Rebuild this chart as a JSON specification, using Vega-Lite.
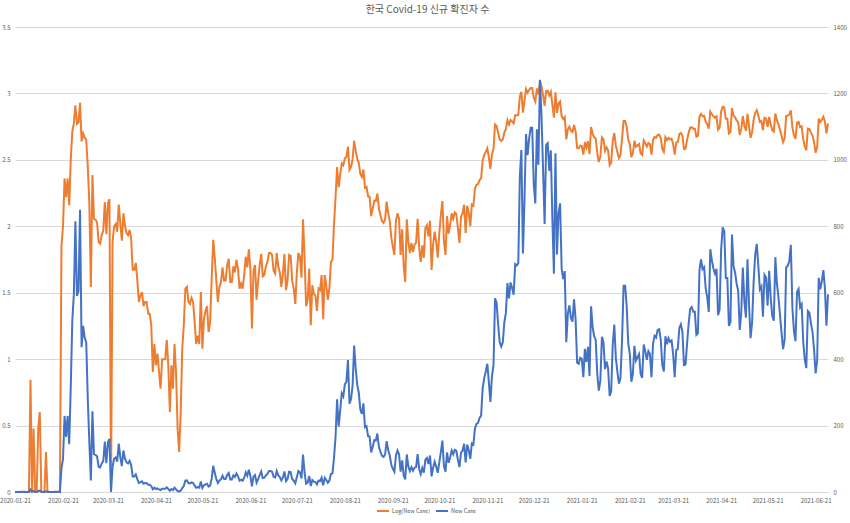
{
"$schema":"https://vega.github.io/schema/vega-lite/v6.json",
"width":813,"height":465,"autosize":"none",
"padding":{"left":15,"top":27,"right":22,"bottom":31},
"background":"white",
"title":{"text":"한국 Covid-19 신규 확진자 수","fontSize":10,"font":"Noto Sans CJK KR","fontWeight":"normal","color":"#595959","anchor":"middle","offset":9,"dx":6},
"data":{"values":[
{"date":"2020-01-21","n":0,"l":0},{"date":"2020-01-22","n":0,"l":0},{"date":"2020-01-23","n":0,"l":0},{"date":"2020-01-24","n":1,"l":0},{"date":"2020-01-25","n":0,"l":0},{"date":"2020-01-26","n":1,"l":0},{"date":"2020-01-27","n":1,"l":0},{"date":"2020-01-28","n":0,"l":0},{"date":"2020-01-29","n":0,"l":0},{"date":"2020-01-30","n":0,"l":0},{"date":"2020-01-31","n":7,"l":0.845},
{"date":"2020-02-01","n":0,"l":0},{"date":"2020-02-02","n":3,"l":0.477},{"date":"2020-02-03","n":0,"l":0},{"date":"2020-02-04","n":1,"l":0},{"date":"2020-02-05","n":3,"l":0.477},{"date":"2020-02-06","n":4,"l":0.602},{"date":"2020-02-07","n":1,"l":0},{"date":"2020-02-08","n":0,"l":0},{"date":"2020-02-09","n":0,"l":0},{"date":"2020-02-10","n":2,"l":0.301},{"date":"2020-02-11","n":1,"l":0},{"date":"2020-02-12","n":0,"l":0},{"date":"2020-02-13","n":0,"l":0},{"date":"2020-02-14","n":0,"l":0},{"date":"2020-02-15","n":0,"l":0},{"date":"2020-02-16","n":1,"l":0},{"date":"2020-02-17","n":1,"l":0},{"date":"2020-02-18","n":1,"l":0},{"date":"2020-02-19","n":0,"l":0},{"date":"2020-02-20","n":71,"l":1.851},{"date":"2020-02-21","n":100,"l":2.0},{"date":"2020-02-22","n":229,"l":2.36},{"date":"2020-02-23","n":166,"l":2.22},{"date":"2020-02-24","n":229,"l":2.36},{"date":"2020-02-25","n":144,"l":2.158},{"date":"2020-02-26","n":316,"l":2.5},{"date":"2020-02-27","n":515,"l":2.712},{"date":"2020-02-28","n":595,"l":2.775},{"date":"2020-02-29","n":815,"l":2.911},
{"date":"2020-03-01","n":590,"l":2.771},{"date":"2020-03-02","n":605,"l":2.782},{"date":"2020-03-03","n":850,"l":2.929},{"date":"2020-03-04","n":436,"l":2.639},{"date":"2020-03-05","n":500,"l":2.699},{"date":"2020-03-06","n":465,"l":2.667},{"date":"2020-03-07","n":450,"l":2.653},{"date":"2020-03-08","n":280,"l":2.447},{"date":"2020-03-09","n":150,"l":2.176},{"date":"2020-03-10","n":35,"l":1.544},{"date":"2020-03-11","n":243,"l":2.386},{"date":"2020-03-12","n":114,"l":2.057},{"date":"2020-03-13","n":112,"l":2.049},{"date":"2020-03-14","n":107,"l":2.029},{"date":"2020-03-15","n":76,"l":1.881},{"date":"2020-03-16","n":74,"l":1.869},{"date":"2020-03-17","n":86,"l":1.934},{"date":"2020-03-18","n":93,"l":1.968},{"date":"2020-03-19","n":152,"l":2.182},{"date":"2020-03-20","n":87,"l":1.94},{"date":"2020-03-21","n":150,"l":2.176},{"date":"2020-03-22","n":160,"l":2.204},{"date":"2020-03-23","n":0,"l":0},{"date":"2020-03-24","n":76,"l":1.881},{"date":"2020-03-25","n":100,"l":2.0},{"date":"2020-03-26","n":104,"l":2.017},{"date":"2020-03-27","n":91,"l":1.959},{"date":"2020-03-28","n":146,"l":2.164},{"date":"2020-03-29","n":105,"l":2.021},{"date":"2020-03-30","n":78,"l":1.892},{"date":"2020-03-31","n":125,"l":2.097},
{"date":"2020-04-01","n":101,"l":2.004},{"date":"2020-04-02","n":89,"l":1.949},{"date":"2020-04-03","n":86,"l":1.934},{"date":"2020-04-04","n":94,"l":1.973},{"date":"2020-04-05","n":81,"l":1.908},{"date":"2020-04-06","n":47,"l":1.672},{"date":"2020-04-07","n":47,"l":1.672},{"date":"2020-04-08","n":53,"l":1.724},{"date":"2020-04-09","n":39,"l":1.591},{"date":"2020-04-10","n":27,"l":1.431},{"date":"2020-04-11","n":30,"l":1.477},{"date":"2020-04-12","n":32,"l":1.505},{"date":"2020-04-13","n":25,"l":1.398},{"date":"2020-04-14","n":27,"l":1.431},{"date":"2020-04-15","n":27,"l":1.431},{"date":"2020-04-16","n":22,"l":1.342},{"date":"2020-04-17","n":22,"l":1.342},{"date":"2020-04-18","n":18,"l":1.255},{"date":"2020-04-19","n":8,"l":0.903},{"date":"2020-04-20","n":13,"l":1.114},{"date":"2020-04-21","n":9,"l":0.954},{"date":"2020-04-22","n":11,"l":1.041},{"date":"2020-04-23","n":8,"l":0.903},{"date":"2020-04-24","n":6,"l":0.778},{"date":"2020-04-25","n":10,"l":1},{"date":"2020-04-26","n":10,"l":1},{"date":"2020-04-27","n":10,"l":1},{"date":"2020-04-28","n":14,"l":1.146},{"date":"2020-04-29","n":9,"l":0.954},{"date":"2020-04-30","n":4,"l":0.602},
{"date":"2020-05-01","n":9,"l":0.954},{"date":"2020-05-02","n":6,"l":0.778},{"date":"2020-05-03","n":13,"l":1.114},{"date":"2020-05-04","n":8,"l":0.903},{"date":"2020-05-05","n":3,"l":0.477},{"date":"2020-05-06","n":2,"l":0.301},{"date":"2020-05-07","n":4,"l":0.602},{"date":"2020-05-08","n":12,"l":1.079},{"date":"2020-05-09","n":18,"l":1.255},{"date":"2020-05-10","n":34,"l":1.531},{"date":"2020-05-11","n":35,"l":1.544},{"date":"2020-05-12","n":27,"l":1.431},{"date":"2020-05-13","n":26,"l":1.415},{"date":"2020-05-14","n":29,"l":1.462},{"date":"2020-05-15","n":27,"l":1.431},{"date":"2020-05-16","n":19,"l":1.279},{"date":"2020-05-17","n":13,"l":1.114},{"date":"2020-05-18","n":15,"l":1.176},{"date":"2020-05-19","n":13,"l":1.114},{"date":"2020-05-20","n":32,"l":1.505},{"date":"2020-05-21","n":12,"l":1.079},{"date":"2020-05-22","n":20,"l":1.301},{"date":"2020-05-23","n":23,"l":1.362},{"date":"2020-05-24","n":25,"l":1.398},{"date":"2020-05-25","n":16,"l":1.204},{"date":"2020-05-26","n":19,"l":1.279},{"date":"2020-05-27","n":40,"l":1.602},{"date":"2020-05-28","n":79,"l":1.898},{"date":"2020-05-29","n":58,"l":1.763},{"date":"2020-05-30","n":39,"l":1.591},{"date":"2020-05-31","n":27,"l":1.431},
{"date":"2020-06-01","n":35,"l":1.544},{"date":"2020-06-02","n":38,"l":1.58},{"date":"2020-06-03","n":49,"l":1.69},{"date":"2020-06-04","n":39,"l":1.591},{"date":"2020-06-05","n":39,"l":1.591},{"date":"2020-06-06","n":51,"l":1.708},{"date":"2020-06-07","n":57,"l":1.756},{"date":"2020-06-08","n":38,"l":1.58},{"date":"2020-06-09","n":38,"l":1.58},{"date":"2020-06-10","n":50,"l":1.699},{"date":"2020-06-11","n":45,"l":1.653},{"date":"2020-06-12","n":56,"l":1.748},{"date":"2020-06-13","n":48,"l":1.681},{"date":"2020-06-14","n":34,"l":1.531},{"date":"2020-06-15","n":37,"l":1.568},{"date":"2020-06-16","n":34,"l":1.531},{"date":"2020-06-17","n":43,"l":1.633},{"date":"2020-06-18","n":59,"l":1.771},{"date":"2020-06-19","n":49,"l":1.69},{"date":"2020-06-20","n":67,"l":1.826},{"date":"2020-06-21","n":48,"l":1.681},{"date":"2020-06-22","n":17,"l":1.23},{"date":"2020-06-23","n":46,"l":1.663},{"date":"2020-06-24","n":51,"l":1.708},{"date":"2020-06-25","n":28,"l":1.447},{"date":"2020-06-26","n":39,"l":1.591},{"date":"2020-06-27","n":51,"l":1.708},{"date":"2020-06-28","n":62,"l":1.792},{"date":"2020-06-29","n":42,"l":1.623},{"date":"2020-06-30","n":43,"l":1.633},
{"date":"2020-07-01","n":50,"l":1.699},{"date":"2020-07-02","n":54,"l":1.732},{"date":"2020-07-03","n":63,"l":1.799},{"date":"2020-07-04","n":63,"l":1.799},{"date":"2020-07-05","n":61,"l":1.785},{"date":"2020-07-06","n":46,"l":1.663},{"date":"2020-07-07","n":44,"l":1.643},{"date":"2020-07-08","n":63,"l":1.799},{"date":"2020-07-09","n":50,"l":1.699},{"date":"2020-07-10","n":45,"l":1.653},{"date":"2020-07-11","n":35,"l":1.544},{"date":"2020-07-12","n":44,"l":1.643},{"date":"2020-07-13","n":62,"l":1.792},{"date":"2020-07-14","n":33,"l":1.519},{"date":"2020-07-15","n":39,"l":1.591},{"date":"2020-07-16","n":61,"l":1.785},{"date":"2020-07-17","n":60,"l":1.778},{"date":"2020-07-18","n":39,"l":1.591},{"date":"2020-07-19","n":34,"l":1.531},{"date":"2020-07-20","n":26,"l":1.415},{"date":"2020-07-21","n":45,"l":1.653},{"date":"2020-07-22","n":63,"l":1.799},{"date":"2020-07-23","n":59,"l":1.771},{"date":"2020-07-24","n":41,"l":1.613},{"date":"2020-07-25","n":113,"l":2.053},{"date":"2020-07-26","n":58,"l":1.763},{"date":"2020-07-27","n":25,"l":1.398},{"date":"2020-07-28","n":28,"l":1.447},{"date":"2020-07-29","n":48,"l":1.681},{"date":"2020-07-30","n":18,"l":1.255},{"date":"2020-07-31","n":36,"l":1.556},
{"date":"2020-08-01","n":31,"l":1.491},{"date":"2020-08-02","n":30,"l":1.477},{"date":"2020-08-03","n":23,"l":1.362},{"date":"2020-08-04","n":34,"l":1.531},{"date":"2020-08-05","n":33,"l":1.519},{"date":"2020-08-06","n":43,"l":1.633},{"date":"2020-08-07","n":20,"l":1.301},{"date":"2020-08-08","n":43,"l":1.633},{"date":"2020-08-09","n":36,"l":1.556},{"date":"2020-08-10","n":28,"l":1.447},{"date":"2020-08-11","n":34,"l":1.531},{"date":"2020-08-12","n":54,"l":1.732},{"date":"2020-08-13","n":56,"l":1.748},{"date":"2020-08-14","n":103,"l":2.013},{"date":"2020-08-15","n":166,"l":2.22},{"date":"2020-08-16","n":279,"l":2.446},{"date":"2020-08-17","n":197,"l":2.294},{"date":"2020-08-18","n":246,"l":2.391},{"date":"2020-08-19","n":297,"l":2.473},{"date":"2020-08-20","n":288,"l":2.459},{"date":"2020-08-21","n":324,"l":2.511},{"date":"2020-08-22","n":332,"l":2.521},{"date":"2020-08-23","n":397,"l":2.599},{"date":"2020-08-24","n":266,"l":2.425},{"date":"2020-08-25","n":280,"l":2.447},{"date":"2020-08-26","n":320,"l":2.505},{"date":"2020-08-27","n":441,"l":2.644},{"date":"2020-08-28","n":371,"l":2.569},{"date":"2020-08-29","n":323,"l":2.509},{"date":"2020-08-30","n":299,"l":2.476},{"date":"2020-08-31","n":248,"l":2.394},
{"date":"2020-09-01","n":235,"l":2.371},{"date":"2020-09-02","n":267,"l":2.427},{"date":"2020-09-03","n":195,"l":2.29},{"date":"2020-09-04","n":198,"l":2.297},{"date":"2020-09-05","n":168,"l":2.225},{"date":"2020-09-06","n":167,"l":2.223},{"date":"2020-09-07","n":119,"l":2.076},{"date":"2020-09-08","n":136,"l":2.134},{"date":"2020-09-09","n":156,"l":2.193},{"date":"2020-09-10","n":155,"l":2.19},{"date":"2020-09-11","n":176,"l":2.246},{"date":"2020-09-12","n":136,"l":2.134},{"date":"2020-09-13","n":121,"l":2.083},{"date":"2020-09-14","n":109,"l":2.037},{"date":"2020-09-15","n":106,"l":2.025},{"date":"2020-09-16","n":113,"l":2.053},{"date":"2020-09-17","n":153,"l":2.185},{"date":"2020-09-18","n":126,"l":2.1},{"date":"2020-09-19","n":110,"l":2.041},{"date":"2020-09-20","n":82,"l":1.914},{"date":"2020-09-21","n":70,"l":1.845},{"date":"2020-09-22","n":61,"l":1.785},{"date":"2020-09-23","n":110,"l":2.041},{"date":"2020-09-24","n":125,"l":2.097},{"date":"2020-09-25","n":114,"l":2.057},{"date":"2020-09-26","n":61,"l":1.785},{"date":"2020-09-27","n":95,"l":1.978},{"date":"2020-09-28","n":50,"l":1.699},{"date":"2020-09-29","n":38,"l":1.58},{"date":"2020-09-30","n":113,"l":2.053},
{"date":"2020-10-01","n":77,"l":1.886},{"date":"2020-10-02","n":63,"l":1.799},{"date":"2020-10-03","n":75,"l":1.875},{"date":"2020-10-04","n":64,"l":1.806},{"date":"2020-10-05","n":73,"l":1.863},{"date":"2020-10-06","n":75,"l":1.875},{"date":"2020-10-07","n":114,"l":2.057},{"date":"2020-10-08","n":69,"l":1.839},{"date":"2020-10-09","n":54,"l":1.732},{"date":"2020-10-10","n":72,"l":1.857},{"date":"2020-10-11","n":58,"l":1.763},{"date":"2020-10-12","n":97,"l":1.987},{"date":"2020-10-13","n":102,"l":2.009},{"date":"2020-10-14","n":84,"l":1.924},{"date":"2020-10-15","n":110,"l":2.041},{"date":"2020-10-16","n":47,"l":1.672},{"date":"2020-10-17","n":73,"l":1.863},{"date":"2020-10-18","n":91,"l":1.959},{"date":"2020-10-19","n":76,"l":1.881},{"date":"2020-10-20","n":58,"l":1.763},{"date":"2020-10-21","n":89,"l":1.949},{"date":"2020-10-22","n":121,"l":2.083},{"date":"2020-10-23","n":155,"l":2.19},{"date":"2020-10-24","n":77,"l":1.886},{"date":"2020-10-25","n":61,"l":1.785},{"date":"2020-10-26","n":119,"l":2.076},{"date":"2020-10-27","n":88,"l":1.944},{"date":"2020-10-28","n":103,"l":2.013},{"date":"2020-10-29","n":125,"l":2.097},{"date":"2020-10-30","n":114,"l":2.057},{"date":"2020-10-31","n":127,"l":2.104},
{"date":"2020-11-01","n":124,"l":2.093},{"date":"2020-11-02","n":97,"l":1.987},{"date":"2020-11-03","n":75,"l":1.875},{"date":"2020-11-04","n":118,"l":2.072},{"date":"2020-11-05","n":125,"l":2.097},{"date":"2020-11-06","n":145,"l":2.161},{"date":"2020-11-07","n":89,"l":1.949},{"date":"2020-11-08","n":143,"l":2.155},{"date":"2020-11-09","n":126,"l":2.1},{"date":"2020-11-10","n":100,"l":2.0},{"date":"2020-11-11","n":146,"l":2.164},{"date":"2020-11-12","n":143,"l":2.155},{"date":"2020-11-13","n":191,"l":2.281},{"date":"2020-11-14","n":205,"l":2.312},{"date":"2020-11-15","n":208,"l":2.318},{"date":"2020-11-16","n":223,"l":2.348},{"date":"2020-11-17","n":230,"l":2.362},{"date":"2020-11-18","n":313,"l":2.496},{"date":"2020-11-19","n":343,"l":2.535},{"date":"2020-11-20","n":363,"l":2.56},{"date":"2020-11-21","n":386,"l":2.587},{"date":"2020-11-22","n":330,"l":2.519},{"date":"2020-11-23","n":271,"l":2.433},{"date":"2020-11-24","n":349,"l":2.543},{"date":"2020-11-25","n":382,"l":2.582},{"date":"2020-11-26","n":583,"l":2.766},{"date":"2020-11-27","n":569,"l":2.755},{"date":"2020-11-28","n":504,"l":2.702},{"date":"2020-11-29","n":450,"l":2.653},{"date":"2020-11-30","n":438,"l":2.641},
{"date":"2020-12-01","n":451,"l":2.654},{"date":"2020-12-02","n":511,"l":2.708},{"date":"2020-12-03","n":540,"l":2.732},{"date":"2020-12-04","n":629,"l":2.799},{"date":"2020-12-05","n":583,"l":2.766},{"date":"2020-12-06","n":631,"l":2.8},{"date":"2020-12-07","n":615,"l":2.789},{"date":"2020-12-08","n":594,"l":2.774},{"date":"2020-12-09","n":686,"l":2.836},{"date":"2020-12-10","n":682,"l":2.834},{"date":"2020-12-11","n":689,"l":2.838},{"date":"2020-12-12","n":950,"l":2.978},{"date":"2020-12-13","n":1030,"l":3.013},{"date":"2020-12-14","n":718,"l":2.856},{"date":"2020-12-15","n":880,"l":2.944},{"date":"2020-12-16","n":1078,"l":3.033},{"date":"2020-12-17","n":1014,"l":3.006},{"date":"2020-12-18","n":1064,"l":3.027},{"date":"2020-12-19","n":1097,"l":3.04},{"date":"2020-12-20","n":1097,"l":3.04},{"date":"2020-12-21","n":926,"l":2.967},{"date":"2020-12-22","n":869,"l":2.939},{"date":"2020-12-23","n":1092,"l":3.038},{"date":"2020-12-24","n":985,"l":2.993},{"date":"2020-12-25","n":1241,"l":3.094},{"date":"2020-12-26","n":1132,"l":3.054},{"date":"2020-12-27","n":970,"l":2.987},{"date":"2020-12-28","n":807,"l":2.907},{"date":"2020-12-29","n":1045,"l":3.019},{"date":"2020-12-30","n":1050,"l":3.021},{"date":"2020-12-31","n":967,"l":2.985},
{"date":"2021-01-01","n":1029,"l":3.012},{"date":"2021-01-02","n":824,"l":2.916},{"date":"2021-01-03","n":657,"l":2.818},{"date":"2021-01-04","n":1020,"l":3.009},{"date":"2021-01-05","n":715,"l":2.854},{"date":"2021-01-06","n":840,"l":2.924},{"date":"2021-01-07","n":869,"l":2.939},{"date":"2021-01-08","n":674,"l":2.829},{"date":"2021-01-09","n":641,"l":2.807},{"date":"2021-01-10","n":665,"l":2.823},{"date":"2021-01-11","n":451,"l":2.654},{"date":"2021-01-12","n":537,"l":2.73},{"date":"2021-01-13","n":562,"l":2.75},{"date":"2021-01-14","n":524,"l":2.719},{"date":"2021-01-15","n":513,"l":2.71},{"date":"2021-01-16","n":580,"l":2.763},{"date":"2021-01-17","n":520,"l":2.716},{"date":"2021-01-18","n":389,"l":2.59},{"date":"2021-01-19","n":386,"l":2.587},{"date":"2021-01-20","n":404,"l":2.606},{"date":"2021-01-21","n":401,"l":2.603},{"date":"2021-01-22","n":346,"l":2.539},{"date":"2021-01-23","n":431,"l":2.634},{"date":"2021-01-24","n":392,"l":2.593},{"date":"2021-01-25","n":437,"l":2.64},{"date":"2021-01-26","n":349,"l":2.543},{"date":"2021-01-27","n":559,"l":2.747},{"date":"2021-01-28","n":497,"l":2.696},{"date":"2021-01-29","n":469,"l":2.671},{"date":"2021-01-30","n":458,"l":2.661},{"date":"2021-01-31","n":355,"l":2.55},
{"date":"2021-02-01","n":305,"l":2.484},{"date":"2021-02-02","n":336,"l":2.526},{"date":"2021-02-03","n":467,"l":2.669},{"date":"2021-02-04","n":451,"l":2.654},{"date":"2021-02-05","n":370,"l":2.568},{"date":"2021-02-06","n":393,"l":2.594},{"date":"2021-02-07","n":372,"l":2.571},{"date":"2021-02-08","n":289,"l":2.461},{"date":"2021-02-09","n":303,"l":2.481},{"date":"2021-02-10","n":444,"l":2.647},{"date":"2021-02-11","n":504,"l":2.702},{"date":"2021-02-12","n":403,"l":2.605},{"date":"2021-02-13","n":362,"l":2.559},{"date":"2021-02-14","n":326,"l":2.513},{"date":"2021-02-15","n":344,"l":2.537},{"date":"2021-02-16","n":457,"l":2.66},{"date":"2021-02-17","n":621,"l":2.793},{"date":"2021-02-18","n":621,"l":2.793},{"date":"2021-02-19","n":561,"l":2.749},{"date":"2021-02-20","n":448,"l":2.651},{"date":"2021-02-21","n":416,"l":2.619},{"date":"2021-02-22","n":332,"l":2.521},{"date":"2021-02-23","n":356,"l":2.551},{"date":"2021-02-24","n":440,"l":2.643},{"date":"2021-02-25","n":396,"l":2.598},{"date":"2021-02-26","n":406,"l":2.609},{"date":"2021-02-27","n":415,"l":2.618},{"date":"2021-02-28","n":355,"l":2.55},
{"date":"2021-03-01","n":344,"l":2.537},{"date":"2021-03-02","n":444,"l":2.647},{"date":"2021-03-03","n":424,"l":2.627},{"date":"2021-03-04","n":398,"l":2.6},{"date":"2021-03-05","n":424,"l":2.627},{"date":"2021-03-06","n":416,"l":2.619},{"date":"2021-03-07","n":346,"l":2.539},{"date":"2021-03-08","n":446,"l":2.649},{"date":"2021-03-09","n":470,"l":2.672},{"date":"2021-03-10","n":465,"l":2.667},{"date":"2021-03-11","n":488,"l":2.688},{"date":"2021-03-12","n":490,"l":2.69},{"date":"2021-03-13","n":459,"l":2.662},{"date":"2021-03-14","n":382,"l":2.582},{"date":"2021-03-15","n":363,"l":2.56},{"date":"2021-03-16","n":469,"l":2.671},{"date":"2021-03-17","n":445,"l":2.648},{"date":"2021-03-18","n":463,"l":2.666},{"date":"2021-03-19","n":452,"l":2.655},{"date":"2021-03-20","n":456,"l":2.659},{"date":"2021-03-21","n":415,"l":2.618},{"date":"2021-03-22","n":346,"l":2.539},{"date":"2021-03-23","n":428,"l":2.631},{"date":"2021-03-24","n":430,"l":2.633},{"date":"2021-03-25","n":494,"l":2.694},{"date":"2021-03-26","n":505,"l":2.703},{"date":"2021-03-27","n":482,"l":2.683},{"date":"2021-03-28","n":382,"l":2.582},{"date":"2021-03-29","n":384,"l":2.584},{"date":"2021-03-30","n":447,"l":2.65},{"date":"2021-03-31","n":506,"l":2.704},
{"date":"2021-04-01","n":551,"l":2.741},{"date":"2021-04-02","n":557,"l":2.746},{"date":"2021-04-03","n":543,"l":2.735},{"date":"2021-04-04","n":543,"l":2.735},{"date":"2021-04-05","n":473,"l":2.675},{"date":"2021-04-06","n":478,"l":2.679},{"date":"2021-04-07","n":668,"l":2.825},{"date":"2021-04-08","n":700,"l":2.845},{"date":"2021-04-09","n":671,"l":2.827},{"date":"2021-04-10","n":677,"l":2.831},{"date":"2021-04-11","n":614,"l":2.788},{"date":"2021-04-12","n":587,"l":2.769},{"date":"2021-04-13","n":542,"l":2.734},{"date":"2021-04-14","n":731,"l":2.864},{"date":"2021-04-15","n":698,"l":2.844},{"date":"2021-04-16","n":673,"l":2.828},{"date":"2021-04-17","n":658,"l":2.818},{"date":"2021-04-18","n":672,"l":2.827},{"date":"2021-04-19","n":532,"l":2.726},{"date":"2021-04-20","n":549,"l":2.74},{"date":"2021-04-21","n":731,"l":2.864},{"date":"2021-04-22","n":797,"l":2.901},{"date":"2021-04-23","n":785,"l":2.895},{"date":"2021-04-24","n":644,"l":2.809},{"date":"2021-04-25","n":644,"l":2.809},{"date":"2021-04-26","n":500,"l":2.699},{"date":"2021-04-27","n":512,"l":2.709},{"date":"2021-04-28","n":775,"l":2.889},{"date":"2021-04-29","n":680,"l":2.833},{"date":"2021-04-30","n":661,"l":2.82},
{"date":"2021-05-01","n":627,"l":2.797},{"date":"2021-05-02","n":606,"l":2.782},{"date":"2021-05-03","n":488,"l":2.688},{"date":"2021-05-04","n":541,"l":2.733},{"date":"2021-05-05","n":676,"l":2.83},{"date":"2021-05-06","n":574,"l":2.759},{"date":"2021-05-07","n":525,"l":2.72},{"date":"2021-05-08","n":701,"l":2.846},{"date":"2021-05-09","n":564,"l":2.751},{"date":"2021-05-10","n":463,"l":2.666},{"date":"2021-05-11","n":511,"l":2.708},{"date":"2021-05-12","n":635,"l":2.803},{"date":"2021-05-13","n":715,"l":2.854},{"date":"2021-05-14","n":747,"l":2.873},{"date":"2021-05-15","n":681,"l":2.833},{"date":"2021-05-16","n":610,"l":2.785},{"date":"2021-05-17","n":619,"l":2.792},{"date":"2021-05-18","n":528,"l":2.723},{"date":"2021-05-19","n":654,"l":2.816},{"date":"2021-05-20","n":646,"l":2.81},{"date":"2021-05-21","n":561,"l":2.749},{"date":"2021-05-22","n":666,"l":2.823},{"date":"2021-05-23","n":585,"l":2.767},{"date":"2021-05-24","n":530,"l":2.724},{"date":"2021-05-25","n":516,"l":2.713},{"date":"2021-05-26","n":707,"l":2.849},{"date":"2021-05-27","n":629,"l":2.799},{"date":"2021-05-28","n":587,"l":2.769},{"date":"2021-05-29","n":533,"l":2.727},{"date":"2021-05-30","n":480,"l":2.681},{"date":"2021-05-31","n":430,"l":2.633},
{"date":"2021-06-01","n":459,"l":2.662},{"date":"2021-06-02","n":677,"l":2.831},{"date":"2021-06-03","n":681,"l":2.833},{"date":"2021-06-04","n":695,"l":2.842},{"date":"2021-06-05","n":744,"l":2.872},{"date":"2021-06-06","n":556,"l":2.745},{"date":"2021-06-07","n":485,"l":2.686},{"date":"2021-06-08","n":454,"l":2.657},{"date":"2021-06-09","n":602,"l":2.78},{"date":"2021-06-10","n":611,"l":2.786},{"date":"2021-06-11","n":556,"l":2.745},{"date":"2021-06-12","n":565,"l":2.752},{"date":"2021-06-13","n":452,"l":2.655},{"date":"2021-06-14","n":399,"l":2.601},{"date":"2021-06-15","n":373,"l":2.572},{"date":"2021-06-16","n":545,"l":2.736},{"date":"2021-06-17","n":540,"l":2.732},{"date":"2021-06-18","n":507,"l":2.705},{"date":"2021-06-19","n":482,"l":2.683},{"date":"2021-06-20","n":429,"l":2.632},{"date":"2021-06-21","n":357,"l":2.553},{"date":"2021-06-22","n":395,"l":2.597},{"date":"2021-06-23","n":645,"l":2.81},{"date":"2021-06-24","n":610,"l":2.785},{"date":"2021-06-25","n":634,"l":2.802},{"date":"2021-06-26","n":668,"l":2.825},{"date":"2021-06-27","n":614,"l":2.788},{"date":"2021-06-28","n":501,"l":2.7},{"date":"2021-06-29","n":595,"l":2.775}
]},
"encoding":{
"x":{"field":"date","type":"temporal",
"scale":{"type":"utc","domain":[{"year":2020,"month":1,"date":21,"utc":true},{"year":2021,"month":6,"date":29,"utc":true}],"nice":false},
"axis":{"title":null,"grid":false,"ticks":false,"domain":true,"domainColor":"#d9d9d9","domainWidth":1,
"values":[{"year":2020,"month":1,"date":21,"utc":true},{"year":2020,"month":2,"date":21,"utc":true},{"year":2020,"month":3,"date":21,"utc":true},{"year":2020,"month":4,"date":21,"utc":true},{"year":2020,"month":5,"date":21,"utc":true},{"year":2020,"month":6,"date":21,"utc":true},{"year":2020,"month":7,"date":21,"utc":true},{"year":2020,"month":8,"date":21,"utc":true},{"year":2020,"month":9,"date":21,"utc":true},{"year":2020,"month":10,"date":21,"utc":true},{"year":2020,"month":11,"date":21,"utc":true},{"year":2020,"month":12,"date":21,"utc":true},{"year":2021,"month":1,"date":21,"utc":true},{"year":2021,"month":2,"date":21,"utc":true},{"year":2021,"month":3,"date":21,"utc":true},{"year":2021,"month":4,"date":21,"utc":true},{"year":2021,"month":5,"date":21,"utc":true},{"year":2021,"month":6,"date":21,"utc":true}],
"labelExpr":"utcFormat(datum.value, '%Y-%m-%d')","labelFontSize":6,"labelColor":"#595959","labelPadding":5,"labelFont":"Noto Sans CJK KR","labelOverlap":false,"labelFlush":false}}
},
"layer":[
{"mark":{"type":"line","color":"#ED7D31","strokeWidth":2},
"encoding":{
"y":{"field":"l","type":"quantitative","scale":{"domain":[0,3.5],"nice":false,"zero":true},
"axis":{"orient":"left","title":null,"values":[0,0.5,1,1.5,2,2.5,3,3.5],"format":"~g","grid":true,"gridColor":"#d9d9d9","gridWidth":1,"domain":false,"ticks":false,"labelFontSize":6,"labelColor":"#595959","labelPadding":5,"labelFont":"Noto Sans CJK KR"}},
"color":{"datum":"Log(New Case)","type":"nominal","scale":{"domain":["Log(New Case)","New Case"],"range":["#ED7D31","#4472C4"]},
"legend":{"orient":"none","legendX":361,"legendY":477,"direction":"horizontal","title":null,"symbolType":"stroke","symbolStrokeWidth":2,"symbolSize":144,"labelFontSize":5.5,"labelOffset":2,"labelColor":"#595959","labelFont":"Noto Sans CJK KR","columnPadding":2}}}},
{"mark":{"type":"line","color":"#4472C4","strokeWidth":2},
"encoding":{
"y":{"field":"n","type":"quantitative","scale":{"domain":[0,1400],"nice":false,"zero":true},
"axis":{"orient":"right","title":null,"values":[0,200,400,600,800,1000,1200,1400],"format":"d","grid":false,"domain":false,"ticks":false,"labelFontSize":6,"labelColor":"#595959","labelPadding":5,"labelFont":"Noto Sans CJK KR"}},
"color":{"datum":"New Case","type":"nominal"}}}
],
"resolve":{"scale":{"y":"independent"}},
"config":{"view":{"stroke":null}}
}
